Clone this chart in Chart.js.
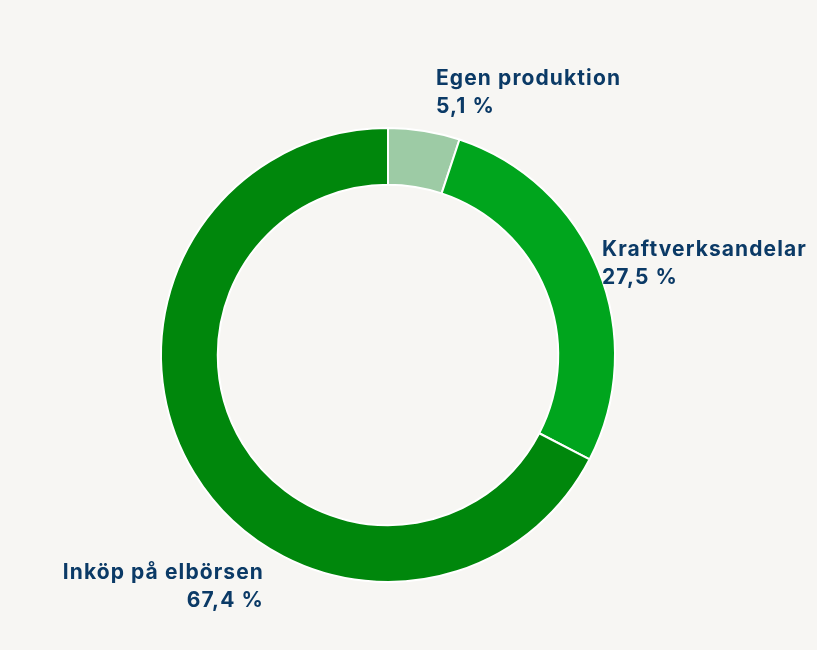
<!DOCTYPE html>
<html>
<head>
<meta charset="utf-8">
<script src="https://cdn.jsdelivr.net/npm/chart.js@4"></script>
<style>
  html, body { margin: 0; padding: 0; background: #f7f6f3; }
  #wrap { width: 817px; height: 650px; }
</style>
</head>
<body>
<div id="wrap"><canvas id="mixChart"></canvas></div>
<script>
// Elmix share, clockwise from top
const kategorier = ['Egen produktion', 'Kraftverksandelar', 'Inköp på elbörsen'];
const andelar = [5.1, 27.5, 67.4];
const etiketter = ['5,1 %', '27,5 %', '67,4 %'];
const farger = ['#9dcba5', '#00a51d', '#00870c'];

// label placement: [dx, dy] from doughnut centre, text alignment
const etikettPlats = [
  { dx: 48, dy: -276, align: 'left' },
  { dx: 214, dy: -105, align: 'left' },
  { dx: -124, dy: 218, align: 'right' }
];

const labelPlugin = {
  id: 'sliceLabels',
  afterDraw(chart) {
    const ctx = chart.ctx;
    const arc = chart.getDatasetMeta(0).data[0];
    const cx = arc.x, cy = arc.y;
    ctx.save();
    ctx.font = '700 21px Inter, "Noto Sans", sans-serif';
    ctx.letterSpacing = '1.1px';
    ctx.fillStyle = '#0b3a66';
    ctx.textBaseline = 'middle';
    kategorier.forEach((namn, i) => {
      const p = etikettPlats[i];
      ctx.textAlign = p.align;
      ctx.fillText(namn, cx + p.dx, cy + p.dy);
      ctx.fillText(etiketter[i], cx + p.dx, cy + p.dy + 28);
    });
    ctx.restore();
  }
};

const ctx = document.getElementById('mixChart').getContext('2d');
new Chart(ctx, {
  type: 'doughnut',
  data: {
    labels: kategorier,
    datasets: [{
      data: andelar,
      backgroundColor: farger,
      borderColor: '#ffffff',
      borderWidth: 2
    }]
  },
  options: {
    responsive: true,
    maintainAspectRatio: false,
    animation: false,
    cutout: '75%',
    layout: { padding: { top: 127, bottom: 67, left: 160, right: 201 } },
    plugins: {
      legend: { display: false },
      tooltip: { enabled: false }
    }
  },
  plugins: [labelPlugin]
});
</script>
</body>
</html>
